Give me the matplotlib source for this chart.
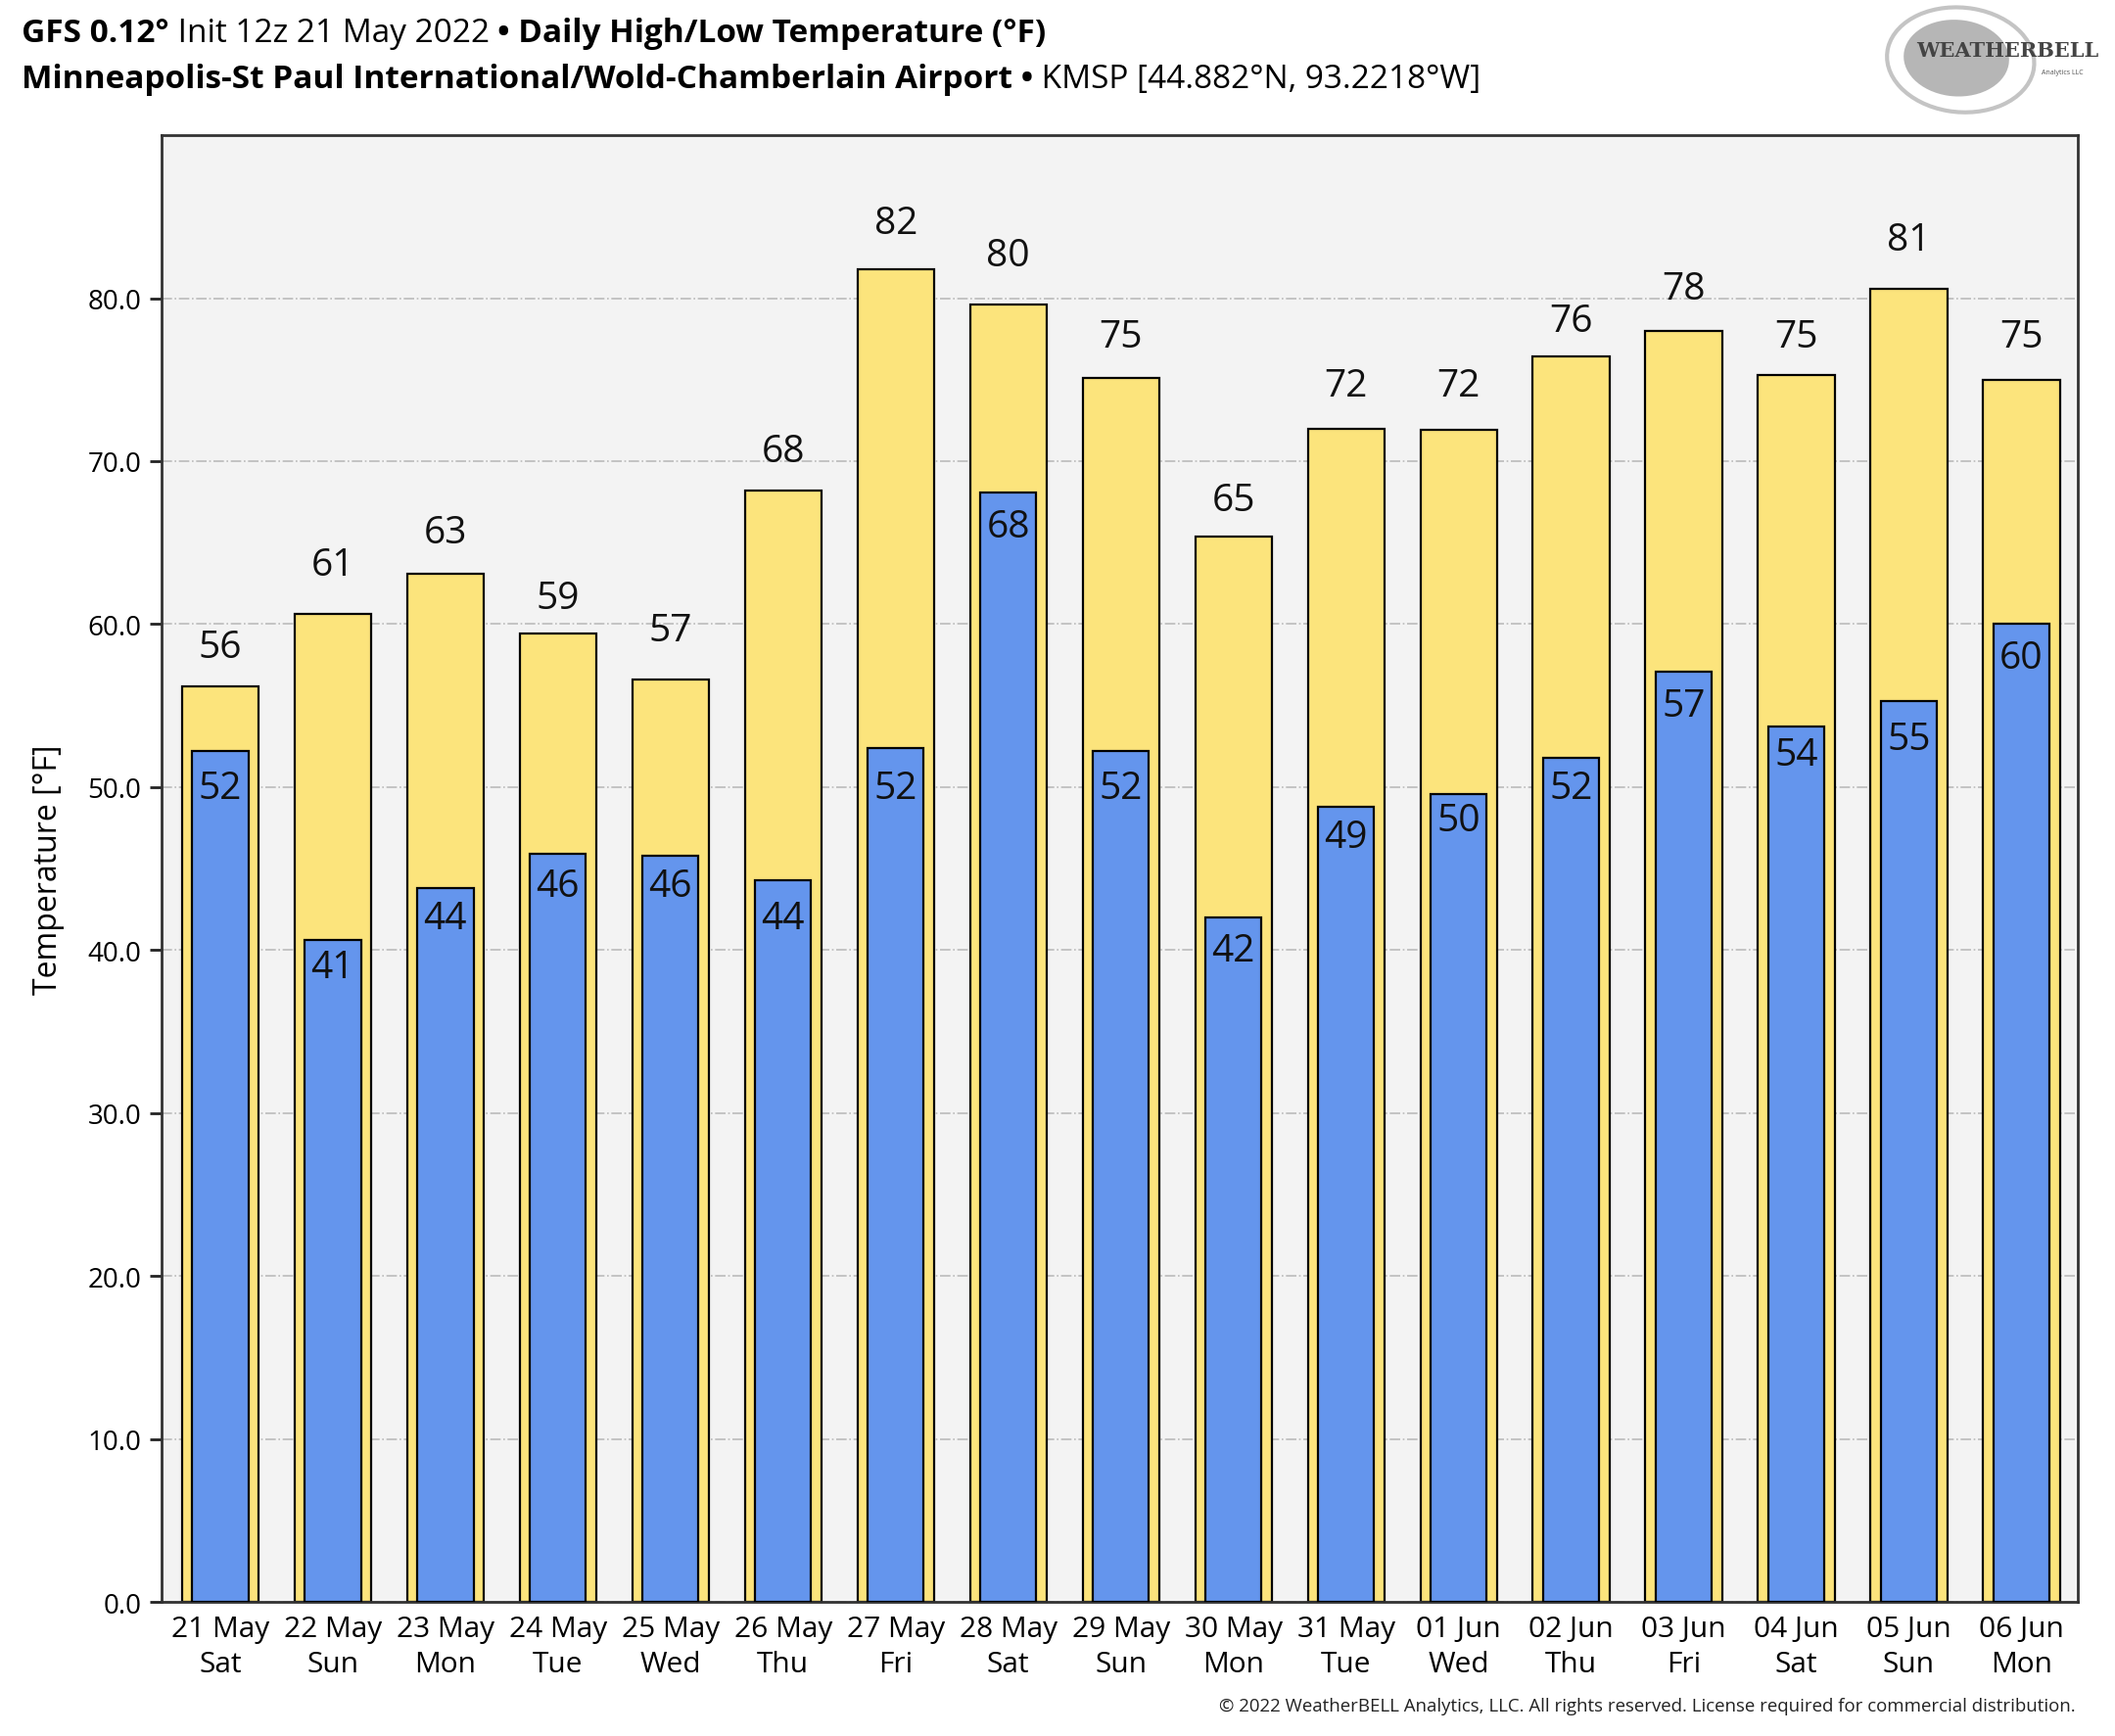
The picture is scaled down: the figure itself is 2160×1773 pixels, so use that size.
import matplotlib
matplotlib.use("Agg")
import matplotlib.pyplot as plt
from matplotlib.patches import Ellipse
import numpy as np

plt.rcParams['font.family'] = ['Open Sans', 'Noto Sans', 'DejaVu Sans']

dates = ['21 May', '22 May', '23 May', '24 May', '25 May', '26 May', '27 May', '28 May', '29 May',
         '30 May', '31 May', '01 Jun', '02 Jun', '03 Jun', '04 Jun', '05 Jun', '06 Jun']
days = ['Sat', 'Sun', 'Mon', 'Tue', 'Wed', 'Thu', 'Fri', 'Sat', 'Sun',
        'Mon', 'Tue', 'Wed', 'Thu', 'Fri', 'Sat', 'Sun', 'Mon']
highs = [56.2, 60.6, 63.1, 59.4, 56.6, 68.2, 81.8, 79.6, 75.1, 65.4, 72.0, 71.9, 76.4, 78.0, 75.3, 80.6, 75.0]
lows = [52.2, 40.6, 43.8, 45.9, 45.8, 44.3, 52.4, 68.1, 52.2, 42.0, 48.8, 49.6, 51.8, 57.1, 53.7, 55.3, 60.0]

fig = plt.figure(figsize=(21.6, 17.74), dpi=100)
ax = fig.add_axes([0.0764, 0.0772, 0.906, 0.8444])
ax.set_facecolor('#f3f3f3')

x = np.arange(len(dates))
ax.bar(x, highs, width=0.68, color='#fce47c', edgecolor='black', linewidth=1.6, zorder=2)
ax.bar(x, lows, width=0.50, color='#6495ed', edgecolor='black', linewidth=1.6, zorder=3)

# labels sit a fixed distance from the rounded value
for i in range(len(dates)):
    hi = int(round(highs[i]))
    lo = int(round(lows[i]))
    ax.text(x[i], hi + 2.6, str(hi), ha='center', va='center', fontsize=28, color='#111111', zorder=4)
    ax.text(x[i], lo - 2.05, str(lo), ha='center', va='center', fontsize=28, color='#111111', zorder=4)

ax.set_xlim(-0.52, 16.5)
ax.set_ylim(0, 90)
ax.set_yticks(np.arange(0, 81, 10))
ax.set_yticklabels(['%.1f' % v for v in np.arange(0, 81, 10)])
ax.set_xticks(x)
ax.set_xticklabels([d + '\n' + w for d, w in zip(dates, days)], linespacing=1.35)
ax.tick_params(axis='y', labelsize=20, length=9, width=2, pad=6, color='#222222')
ax.tick_params(axis='x', labelsize=21.5, length=0, pad=9)
ax.grid(axis='y', color='#bbbbbb', linestyle='-.', linewidth=1.2, zorder=0)
for s in ax.spines.values():
    s.set_linewidth(2)
    s.set_color('#333333')
ax.set_ylabel('Temperature [°F]', fontsize=23, labelpad=17)

# title rows, pieces of mixed weight chained one after another
t1 = fig.text(0.0102, 0.9803, 'GFS 0.12°', fontsize=24, fontweight='bold', va='center')
t2 = ax.annotate(' Init 12z 21 May 2022 ', xy=(1, 0), xycoords=t1, fontsize=24, va='bottom', ha='left',
                 annotation_clip=False)
t3 = ax.annotate('• Daily High/Low Temperature (°F)', xy=(1, 0), xycoords=t2, fontsize=24,
                 fontweight='bold', va='bottom', ha='left', annotation_clip=False)
t4 = fig.text(0.0102, 0.9538, 'Minneapolis-St Paul International/Wold-Chamberlain Airport', fontsize=24,
              fontweight='bold', va='center')
t5 = ax.annotate(' •', xy=(1, 0), xycoords=t4, fontsize=24, fontweight='bold', va='bottom', ha='left',
                 annotation_clip=False)
t6 = ax.annotate(' KMSP [44.882°N, 93.2218°W]', xy=(1, 0), xycoords=t5, fontsize=24, va='bottom',
                 ha='left', annotation_clip=False)

# logo
fig.patches.append(Ellipse((0.925, 0.966), 0.05, 0.044, angle=-10, transform=fig.transFigure,
                           facecolor='#a9a9a9', edgecolor='none', alpha=0.85))
fig.patches.append(Ellipse((0.927, 0.965), 0.07, 0.06, angle=-12, transform=fig.transFigure,
                           facecolor='none', edgecolor='#c4c4c4', linewidth=3))
fig.text(0.949, 0.9705, 'WEATHERBELL', fontsize=15, fontweight='bold', family='serif',
         color='#444444', ha='center', va='center')
fig.text(0.985, 0.958, 'Analytics LLC', fontsize=5, color='#555555', ha='right', va='center')

fig.text(0.9815, 0.0175, '© 2022 WeatherBELL Analytics, LLC. All rights reserved. License required for commercial distribution.',
         fontsize=13.4, ha='right', va='center', color='#222222')

fig.savefig('out.png', dpi=100, facecolor='white')
